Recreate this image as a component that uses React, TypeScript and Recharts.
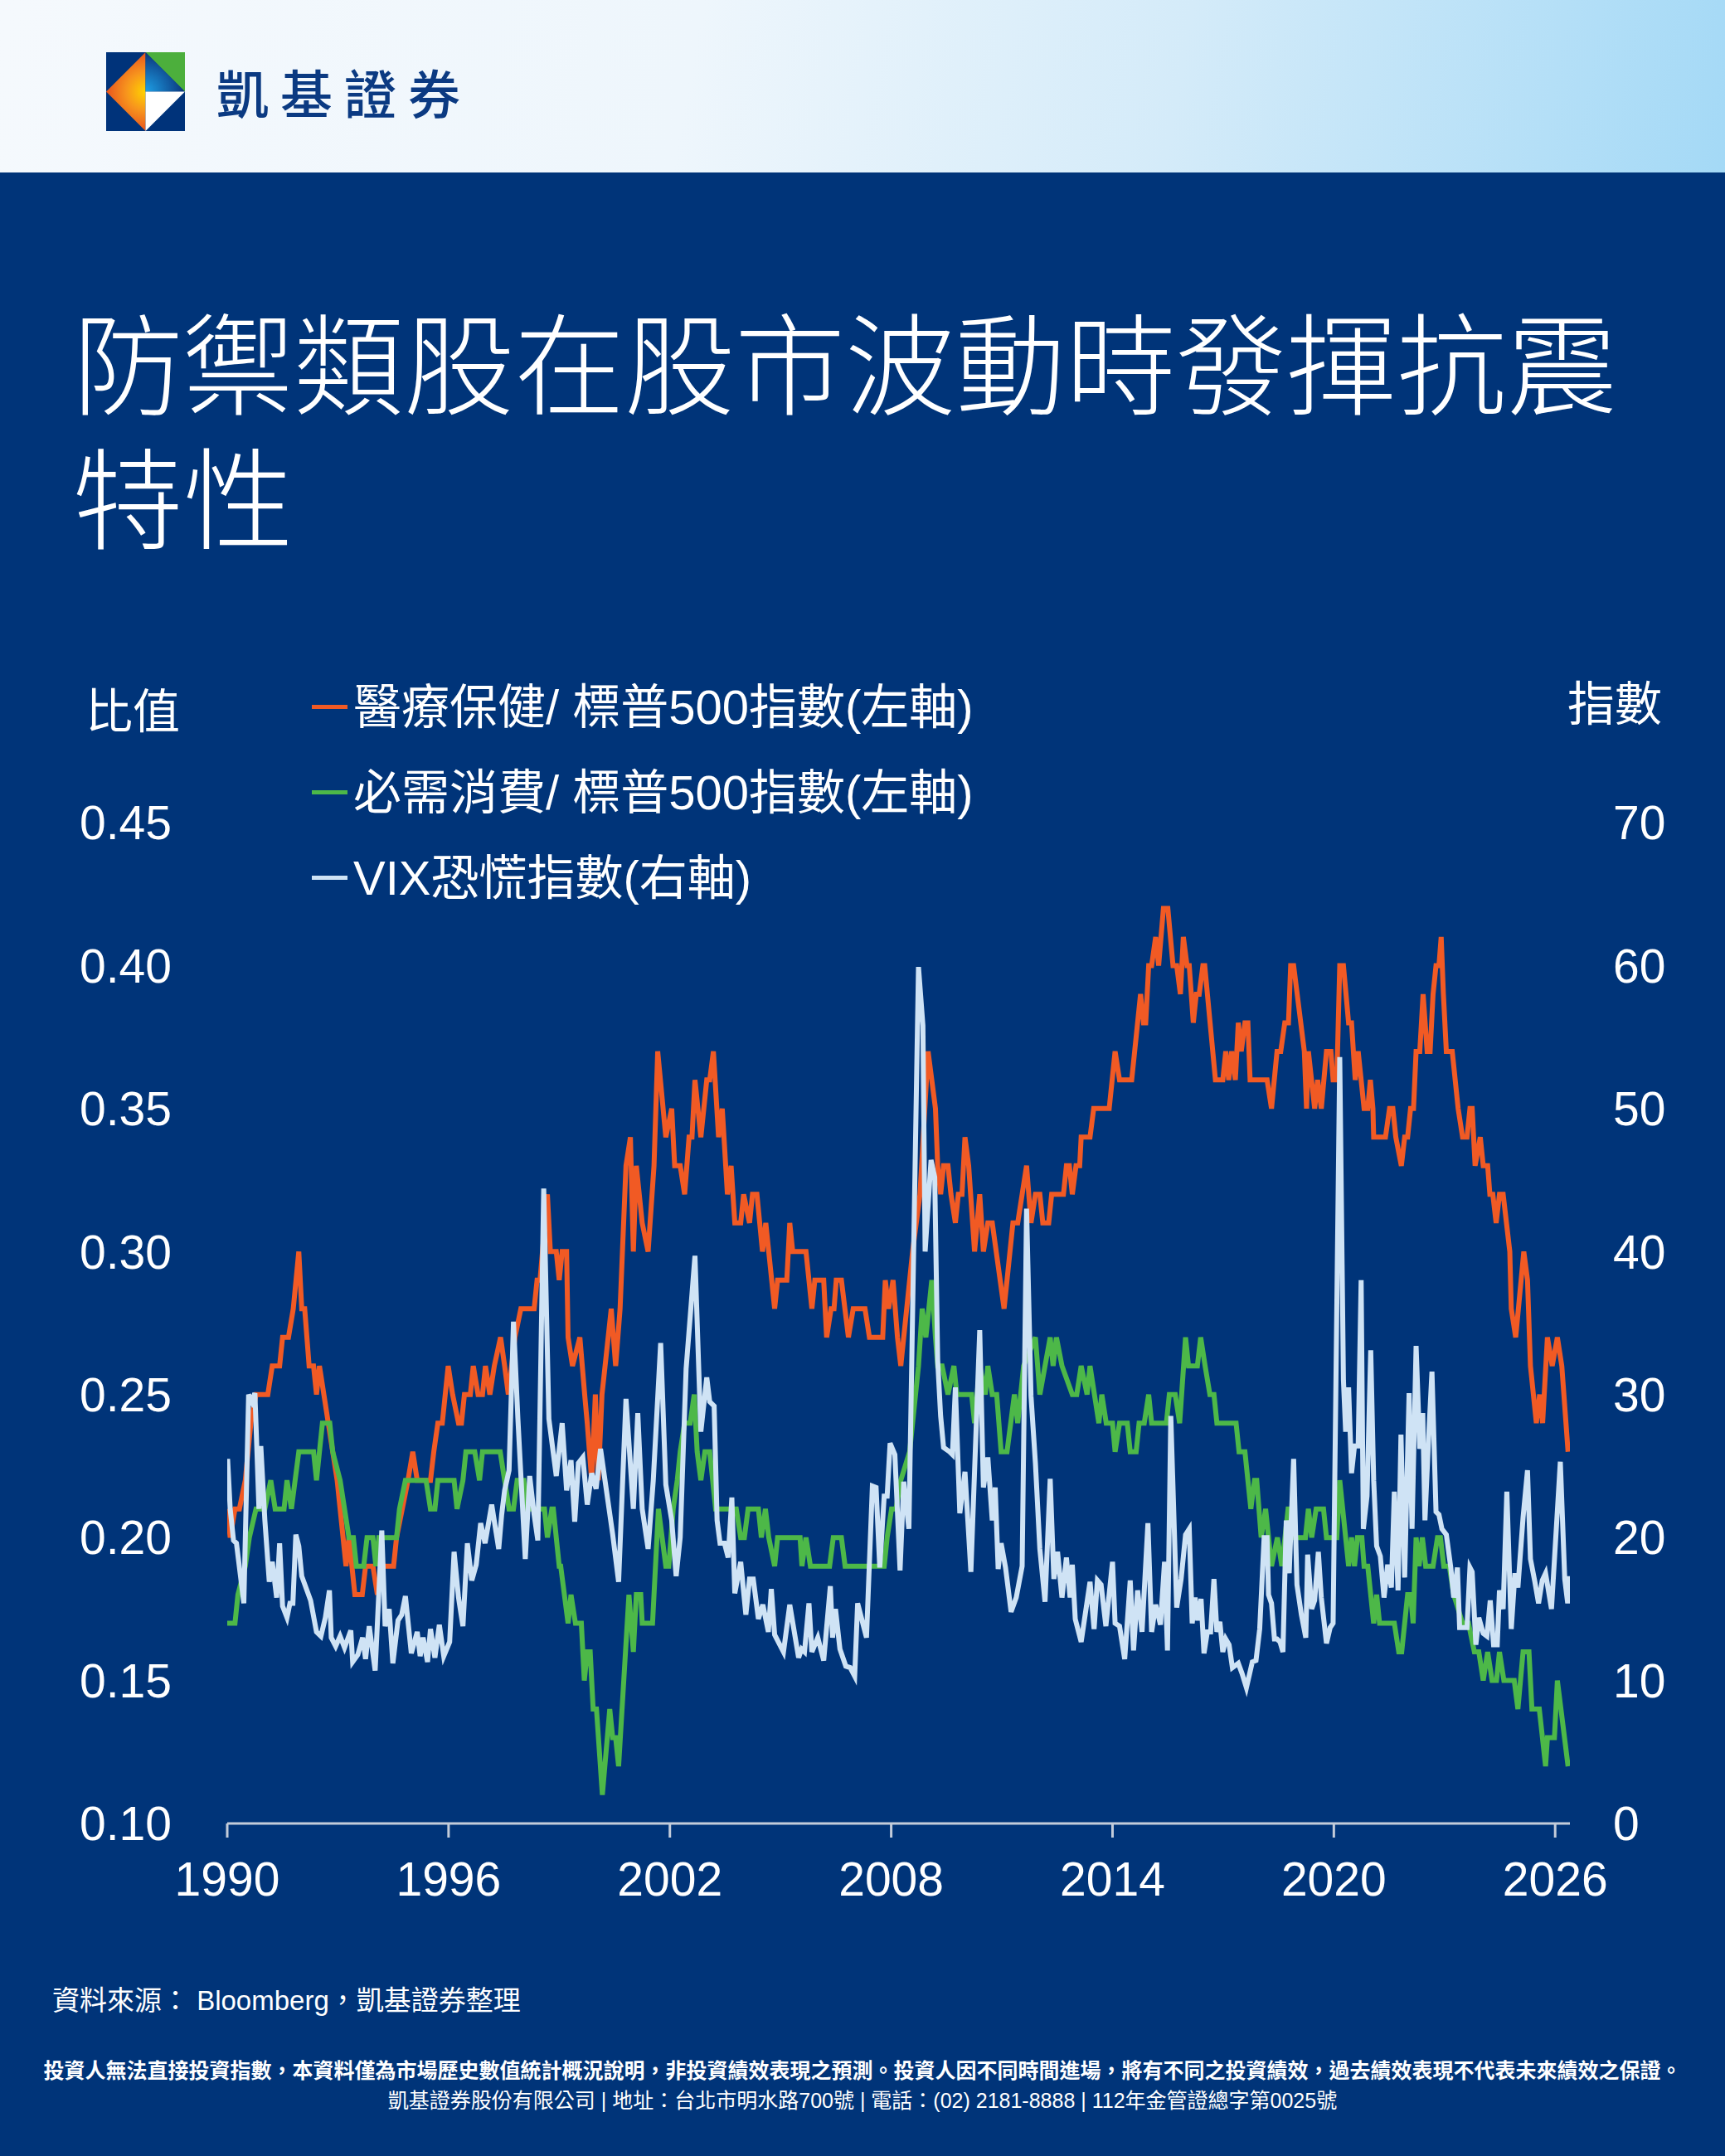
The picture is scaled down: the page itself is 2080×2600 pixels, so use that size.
import { LineChart, Line, XAxis, YAxis } from "recharts";

const FONT = '"Liberation Sans", Arial, "Noto Sans CJK TC", sans-serif';
const CJK = '"Noto Sans CJK TC", "Liberation Sans", sans-serif';
const BG = "#003479";
const AXIS = "#c3ccda";

const ORANGE = "#f15a24";
const GREEN = "#4db848";
const VIX_COLOR = "#cfe3f5";

const X_TICKS = [1990, 1996, 2002, 2008, 2014, 2020, 2026];
const LEFT_TICKS = [0.1, 0.15, 0.2, 0.25, 0.3, 0.35, 0.4, 0.45];
const RIGHT_TICKS = [0, 10, 20, 30, 40, 50, 60, 70];

// 醫療保健/標普500 比值
const healthYears = [
  1990.0, 1990.08, 1990.21, 1990.33, 1990.49, 1990.64, 1990.78, 1991.1, 1991.22, 1991.42,
  1991.5, 1991.66, 1991.79, 1991.94, 1992.02, 1992.1, 1992.22, 1992.34, 1992.42, 1992.5,
  1992.62, 1992.74, 1992.86, 1992.98, 1993.14, 1993.22, 1993.3, 1993.46, 1993.66, 1993.75,
  1993.95, 1994.07, 1994.19, 1994.51, 1994.59, 1994.9, 1995.03, 1995.15, 1995.51, 1995.6,
  1995.71, 1995.83, 1995.99, 1996.11, 1996.27, 1996.35, 1996.43, 1996.59, 1996.67, 1996.8,
  1996.92, 1997.0, 1997.12, 1997.24, 1997.41, 1997.52, 1997.62, 1997.8, 1997.96, 1998.32,
  1998.4, 1998.48, 1998.68, 1998.76, 1998.92, 1999.0, 1999.08, 1999.2, 1999.24, 1999.36,
  1999.56, 1999.69, 1999.76, 1999.88, 1999.98, 2000.06, 2000.16, 2000.41, 2000.53, 2000.65,
  2000.81, 2000.93, 2001.01, 2001.09, 2001.25, 2001.41, 2001.57, 2001.67, 2001.89, 2002.05,
  2002.13, 2002.28, 2002.4, 2002.52, 2002.6, 2002.68, 2002.84, 2003.0, 2003.08, 2003.18,
  2003.32, 2003.42, 2003.56, 2003.66, 2003.76, 2003.92, 2004.0, 2004.16, 2004.24, 2004.36,
  2004.51, 2004.6, 2004.84, 2004.92, 2005.17, 2005.25, 2005.33, 2005.69, 2005.85, 2005.93,
  2006.17, 2006.25, 2006.37, 2006.45, 2006.51, 2006.65, 2006.84, 2006.97, 2007.29, 2007.41,
  2007.77, 2007.84, 2007.93, 2008.05, 2008.17, 2008.26, 2008.58, 2008.78, 2009.0, 2009.1,
  2009.2, 2009.26, 2009.34, 2009.42, 2009.54, 2009.62, 2009.74, 2009.82, 2009.92, 2010.0,
  2010.1, 2010.26, 2010.4, 2010.5, 2010.62, 2010.74, 2011.06, 2011.3, 2011.43, 2011.67,
  2011.79, 2011.91, 2012.03, 2012.11, 2012.27, 2012.35, 2012.67, 2012.75, 2012.83, 2012.91,
  2013.01, 2013.11, 2013.15, 2013.39, 2013.49, 2013.91, 2014.07, 2014.19, 2014.52, 2014.76,
  2014.84, 2014.9, 2014.98, 2015.06, 2015.17, 2015.25, 2015.38, 2015.5, 2015.64, 2015.74,
  2015.84, 2015.92, 2016.02, 2016.08, 2016.19, 2016.27, 2016.35, 2016.45, 2016.5, 2016.79,
  2016.99, 2017.07, 2017.15, 2017.23, 2017.33, 2017.41, 2017.49, 2017.59, 2017.67, 2017.73,
  2018.19, 2018.31, 2018.46, 2018.56, 2018.67, 2018.77, 2018.83, 2018.91, 2019.2, 2019.26,
  2019.31, 2019.48, 2019.56, 2019.66, 2019.8, 2019.92, 2019.98, 2020.08, 2020.16, 2020.26,
  2020.4, 2020.48, 2020.58, 2020.66, 2020.82, 2020.92, 2020.99, 2021.06, 2021.08, 2021.4,
  2021.51, 2021.6, 2021.68, 2021.83, 2021.92, 2022.0, 2022.08, 2022.16, 2022.23, 2022.33,
  2022.42, 2022.53, 2022.61, 2022.69, 2022.77, 2022.85, 2022.91, 2022.97, 2023.05, 2023.21,
  2023.37, 2023.49, 2023.61, 2023.69, 2023.75, 2023.83, 2023.97, 2024.05, 2024.17, 2024.23,
  2024.31, 2024.4, 2024.49, 2024.59, 2024.77, 2024.81, 2024.93, 2025.15, 2025.25, 2025.33,
  2025.49, 2025.58, 2025.66, 2025.79, 2025.92, 2026.06, 2026.18, 2026.35,
];
const healthRatio = [
  0.21, 0.2, 0.21, 0.21, 0.22, 0.24, 0.25, 0.25, 0.26, 0.26,
  0.27, 0.27, 0.28, 0.3, 0.28, 0.28, 0.26, 0.26, 0.25, 0.26,
  0.25, 0.24, 0.23, 0.22, 0.2, 0.19, 0.2, 0.18, 0.18, 0.19,
  0.19, 0.18, 0.19, 0.19, 0.2, 0.22, 0.23, 0.22, 0.22, 0.23,
  0.24, 0.24, 0.26, 0.25, 0.24, 0.24, 0.25, 0.25, 0.26, 0.25,
  0.25, 0.26, 0.25, 0.26, 0.27, 0.26, 0.25, 0.27, 0.28, 0.28,
  0.29, 0.29, 0.32, 0.3, 0.3, 0.29, 0.3, 0.3, 0.27, 0.26,
  0.27, 0.25, 0.24, 0.22, 0.25, 0.22, 0.25, 0.28, 0.26, 0.28,
  0.33, 0.34, 0.3, 0.33, 0.31, 0.3, 0.33, 0.37, 0.34, 0.35,
  0.33, 0.33, 0.32, 0.34, 0.34, 0.36, 0.34, 0.36, 0.36, 0.37,
  0.34, 0.35, 0.32, 0.33, 0.31, 0.31, 0.32, 0.31, 0.32, 0.32,
  0.3, 0.31, 0.28, 0.29, 0.29, 0.31, 0.3, 0.3, 0.28, 0.29,
  0.29, 0.27, 0.28, 0.28, 0.29, 0.29, 0.27, 0.28, 0.28, 0.27,
  0.27, 0.29, 0.28, 0.29, 0.27, 0.26, 0.3, 0.32, 0.37, 0.36,
  0.35, 0.33, 0.32, 0.33, 0.33, 0.32, 0.31, 0.32, 0.32, 0.34,
  0.33, 0.3, 0.32, 0.3, 0.31, 0.31, 0.28, 0.31, 0.31, 0.33,
  0.31, 0.32, 0.32, 0.31, 0.31, 0.32, 0.32, 0.33, 0.33, 0.32,
  0.33, 0.33, 0.34, 0.34, 0.35, 0.35, 0.37, 0.36, 0.36, 0.39,
  0.38, 0.38, 0.4, 0.4, 0.41, 0.4, 0.42, 0.42, 0.4, 0.4,
  0.39, 0.41, 0.4, 0.4, 0.38, 0.39, 0.39, 0.4, 0.4, 0.36,
  0.36, 0.37, 0.36, 0.37, 0.36, 0.38, 0.37, 0.38, 0.38, 0.36,
  0.36, 0.35, 0.37, 0.37, 0.38, 0.38, 0.4, 0.4, 0.37, 0.35,
  0.37, 0.35, 0.36, 0.35, 0.37, 0.37, 0.36, 0.36, 0.4, 0.4,
  0.38, 0.38, 0.36, 0.37, 0.35, 0.35, 0.36, 0.35, 0.34, 0.34,
  0.35, 0.35, 0.34, 0.33, 0.34, 0.34, 0.35, 0.35, 0.37, 0.37,
  0.39, 0.37, 0.37, 0.39, 0.4, 0.4, 0.41, 0.39, 0.37, 0.37,
  0.35, 0.34, 0.34, 0.35, 0.35, 0.33, 0.34, 0.33, 0.33, 0.32,
  0.32, 0.31, 0.32, 0.32, 0.3, 0.28, 0.27, 0.3, 0.29, 0.26,
  0.24, 0.25, 0.24, 0.27, 0.26, 0.27, 0.26, 0.23,
];

// 必需消費/標普500 比值
const staplesYears = [
  1990.0, 1990.21, 1990.29, 1990.49, 1990.6, 1990.78, 1991.02, 1991.18, 1991.3, 1991.54,
  1991.62, 1991.74, 1991.94, 1992.34, 1992.42, 1992.58, 1992.78, 1992.86, 1993.06, 1993.3,
  1993.42, 1993.5, 1993.7, 1993.79, 1993.95, 1994.03, 1994.11, 1994.59, 1994.67, 1994.83,
  1995.39, 1995.51, 1995.63, 1995.71, 1996.15, 1996.23, 1996.39, 1996.47, 1996.71, 1996.84,
  1996.92, 1997.4, 1997.52, 1997.64, 1997.76, 1997.86, 1998.04, 1998.12, 1998.6, 1998.68,
  1998.8, 1998.84, 1999.0, 1999.04, 1999.24, 1999.32, 1999.44, 1999.6, 1999.68, 1999.76,
  1999.84, 1999.92, 2000.01, 2000.17, 2000.37, 2000.45, 2000.53, 2000.61, 2000.89, 2001.01,
  2001.09, 2001.21, 2001.25, 2001.53, 2001.69, 2001.89, 2001.97, 2002.09, 2002.2, 2002.28,
  2002.4, 2002.55, 2002.66, 2002.74, 2002.84, 2002.95, 2003.08, 2003.24, 2003.8, 2003.92,
  2004.02, 2004.12, 2004.4, 2004.48, 2004.59, 2004.68, 2004.84, 2004.92, 2005.53, 2005.58,
  2005.69, 2005.81, 2006.33, 2006.43, 2006.65, 2006.75, 2007.81, 2007.89, 2008.01, 2008.13,
  2008.26, 2008.5, 2008.74, 2008.84, 2008.94, 2009.1, 2009.2, 2009.26, 2009.38, 2009.54,
  2009.7, 2009.78, 2010.18, 2010.26, 2010.4, 2010.55, 2010.62, 2010.74, 2010.86, 2010.98,
  2011.14, 2011.34, 2011.43, 2011.59, 2011.91, 2012.03, 2012.31, 2012.39, 2012.48, 2012.63,
  2012.91, 2013.03, 2013.15, 2013.31, 2013.39, 2013.51, 2013.63, 2013.71, 2013.83, 2014.0,
  2014.07, 2014.19, 2014.4, 2014.48, 2014.64, 2014.72, 2014.86, 2014.98, 2015.06, 2015.46,
  2015.54, 2015.7, 2015.82, 2015.98, 2016.06, 2016.19, 2016.3, 2016.39, 2016.51, 2016.64,
  2016.75, 2016.83, 2017.35, 2017.43, 2017.59, 2017.75, 2017.85, 2017.91, 2018.03, 2018.15,
  2018.31, 2018.47, 2018.59, 2018.76, 2018.84, 2018.95, 2019.23, 2019.31, 2019.4, 2019.52,
  2019.72, 2019.8, 2020.08, 2020.16, 2020.4, 2020.48, 2020.56, 2020.64, 2020.76, 2020.82,
  2020.92, 2021.08, 2021.16, 2021.24, 2021.64, 2021.76, 2021.84, 2022.0, 2022.08, 2022.15,
  2022.23, 2022.31, 2022.4, 2022.49, 2022.69, 2022.81, 2022.89, 2022.98, 2023.13, 2023.25,
  2023.49, 2023.65, 2023.81, 2023.93, 2024.05, 2024.17, 2024.29, 2024.41, 2024.49, 2024.61,
  2024.89, 2024.99, 2025.13, 2025.29, 2025.37, 2025.57, 2025.74, 2025.79, 2025.98, 2026.06,
  2026.35,
];
const staplesRatio = [
  0.17, 0.17, 0.18, 0.19, 0.2, 0.21, 0.21, 0.22, 0.21, 0.21,
  0.22, 0.21, 0.23, 0.23, 0.22, 0.24, 0.24, 0.23, 0.22, 0.2,
  0.2, 0.19, 0.19, 0.2, 0.2, 0.19, 0.2, 0.2, 0.21, 0.22,
  0.22, 0.21, 0.21, 0.22, 0.22, 0.21, 0.22, 0.23, 0.23, 0.22,
  0.23, 0.23, 0.22, 0.21, 0.21, 0.22, 0.22, 0.21, 0.21, 0.2,
  0.21, 0.21, 0.19, 0.19, 0.17, 0.18, 0.17, 0.17, 0.15, 0.16,
  0.16, 0.14, 0.14, 0.11, 0.14, 0.13, 0.13, 0.12, 0.18, 0.16,
  0.18, 0.18, 0.17, 0.17, 0.21, 0.19, 0.19, 0.21, 0.22, 0.23,
  0.24, 0.24, 0.25, 0.23, 0.22, 0.23, 0.23, 0.21, 0.21, 0.2,
  0.2, 0.21, 0.21, 0.2, 0.21, 0.2, 0.19, 0.2, 0.2, 0.19,
  0.2, 0.19, 0.19, 0.2, 0.2, 0.19, 0.19, 0.2, 0.21, 0.21,
  0.22, 0.23, 0.26, 0.28, 0.27, 0.29, 0.27, 0.26, 0.26, 0.25,
  0.26, 0.25, 0.25, 0.24, 0.26, 0.25, 0.26, 0.25, 0.25, 0.23,
  0.23, 0.25, 0.24, 0.26, 0.27, 0.25, 0.27, 0.26, 0.27, 0.26,
  0.25, 0.25, 0.26, 0.25, 0.26, 0.25, 0.24, 0.25, 0.24, 0.24,
  0.23, 0.24, 0.24, 0.23, 0.23, 0.24, 0.24, 0.25, 0.24, 0.24,
  0.25, 0.25, 0.24, 0.27, 0.26, 0.26, 0.26, 0.27, 0.26, 0.25,
  0.25, 0.24, 0.24, 0.23, 0.23, 0.21, 0.22, 0.22, 0.2, 0.21,
  0.19, 0.2, 0.19, 0.21, 0.21, 0.2, 0.2, 0.21, 0.2, 0.21,
  0.21, 0.2, 0.2, 0.22, 0.19, 0.2, 0.19, 0.2, 0.2, 0.19,
  0.19, 0.17, 0.18, 0.17, 0.17, 0.16, 0.16, 0.18, 0.18, 0.17,
  0.2, 0.19, 0.2, 0.19, 0.19, 0.2, 0.2, 0.19, 0.19, 0.18,
  0.17, 0.17, 0.16, 0.16, 0.15, 0.16, 0.15, 0.15, 0.16, 0.15,
  0.15, 0.14, 0.16, 0.16, 0.14, 0.14, 0.12, 0.13, 0.13, 0.15,
  0.12,
];

// VIX 恐慌指數
const vixYears = [
  1990.01, 1990.08, 1990.17, 1990.25, 1990.45, 1990.58, 1990.67, 1990.75, 1990.86, 1990.91,
  1991.02, 1991.14, 1991.22, 1991.34, 1991.42, 1991.5, 1991.62, 1991.7, 1991.78, 1991.86,
  1991.94, 1992.02, 1992.26, 1992.42, 1992.54, 1992.66, 1992.77, 1992.82, 1992.94, 1993.06,
  1993.18, 1993.35, 1993.4, 1993.54, 1993.67, 1993.75, 1993.85, 1994.01, 1994.19, 1994.28,
  1994.39, 1994.49, 1994.63, 1994.73, 1994.83, 1994.99, 1995.15, 1995.23, 1995.31, 1995.43,
  1995.51, 1995.63, 1995.75, 1995.87, 1996.03, 1996.15, 1996.27, 1996.39, 1996.51, 1996.63,
  1996.75, 1996.87, 1996.99, 1997.17, 1997.36, 1997.44, 1997.52, 1997.64, 1997.76, 1997.88,
  1998.08, 1998.2, 1998.32, 1998.42, 1998.58, 1998.72, 1998.92, 1999.08, 1999.2, 1999.32,
  1999.42, 1999.52, 1999.64, 1999.76, 1999.88, 2000.0, 2000.12, 2000.45, 2000.61, 2000.81,
  2001.01, 2001.13, 2001.25, 2001.41, 2001.55, 2001.75, 2001.89, 2002.05, 2002.17, 2002.28,
  2002.44, 2002.68, 2002.84, 2003.0, 2003.08, 2003.2, 2003.28, 2003.36, 2003.48, 2003.58,
  2003.68, 2003.76, 2003.92, 2004.06, 2004.16, 2004.26, 2004.4, 2004.52, 2004.67, 2004.75,
  2004.84, 2005.08, 2005.25, 2005.49, 2005.57, 2005.65, 2005.77, 2005.85, 2006.01, 2006.17,
  2006.35, 2006.41, 2006.49, 2006.61, 2006.77, 2006.89, 2007.01, 2007.09, 2007.33, 2007.49,
  2007.59, 2007.69, 2007.81, 2007.89, 2007.97, 2008.1, 2008.24, 2008.34, 2008.48, 2008.74,
  2008.86, 2008.92, 2009.08, 2009.18, 2009.26, 2009.34, 2009.42, 2009.58, 2009.66, 2009.74,
  2009.86, 2010.0, 2010.16, 2010.4, 2010.5, 2010.62, 2010.74, 2010.82, 2010.9, 2010.98,
  2011.1, 2011.25, 2011.39, 2011.55, 2011.67, 2011.79, 2011.91, 2012.03, 2012.17, 2012.31,
  2012.41, 2012.51, 2012.63, 2012.75, 2012.85, 2012.91, 2012.99, 2013.15, 2013.39, 2013.5,
  2013.59, 2013.69, 2013.82, 2014.0, 2014.07, 2014.19, 2014.33, 2014.48, 2014.57, 2014.68,
  2014.8, 2014.96, 2015.06, 2015.17, 2015.3, 2015.41, 2015.49, 2015.58, 2015.74, 2015.86,
  2015.98, 2016.08, 2016.16, 2016.24, 2016.31, 2016.4, 2016.48, 2016.57, 2016.66, 2016.75,
  2016.83, 2016.91, 2016.99, 2017.07, 2017.16, 2017.25, 2017.41, 2017.51, 2017.63, 2017.79,
  2017.89, 2017.99, 2018.11, 2018.19, 2018.23, 2018.31, 2018.39, 2018.46, 2018.54, 2018.62,
  2018.71, 2018.79, 2018.91, 2019.0, 2019.12, 2019.24, 2019.29, 2019.4, 2019.48, 2019.58,
  2019.66, 2019.8, 2019.9, 2019.98, 2020.16, 2020.26, 2020.32, 2020.4, 2020.48, 2020.56,
  2020.66, 2020.74, 2020.8, 2020.9, 2021.0, 2021.08, 2021.16, 2021.26, 2021.36, 2021.46,
  2021.56, 2021.64, 2021.74, 2021.82, 2021.92, 2022.04, 2022.12, 2022.23, 2022.33, 2022.41,
  2022.47, 2022.57, 2022.66, 2022.77, 2022.85, 2022.93, 2023.05, 2023.17, 2023.25, 2023.35,
  2023.41, 2023.61, 2023.69, 2023.75, 2023.85, 2023.93, 2024.05, 2024.15, 2024.24, 2024.33,
  2024.43, 2024.49, 2024.59, 2024.69, 2024.81, 2024.91, 2024.99, 2025.13, 2025.25, 2025.33,
  2025.45, 2025.55, 2025.65, 2025.74, 2025.9, 2026.14, 2026.26, 2026.34, 2026.38,
];
const vixLevel = [
  25.5, 22.0, 19.8, 19.6, 15.4, 30.0, 29.5, 30.1, 22.0, 26.4,
  21.2, 16.9, 18.3, 15.8, 19.6, 15.2, 14.4, 15.4, 15.4, 20.2,
  19.4, 17.3, 15.6, 13.4, 13.1, 14.4, 16.3, 13.0, 12.4, 13.1,
  12.3, 13.5, 11.3, 11.8, 13.0, 11.5, 13.8, 10.7, 20.5, 13.8,
  15.0, 11.2, 14.2, 14.6, 15.9, 11.9, 13.4, 11.7, 13.0, 11.3,
  13.6, 11.6, 13.9, 11.7, 12.7, 19.0, 15.8, 13.8, 19.6, 17.0,
  18.1, 21.0, 19.6, 22.3, 19.2, 21.6, 23.3, 24.7, 35.1, 28.3,
  18.5, 24.3, 21.6, 19.8, 44.4, 28.3, 24.3, 28.0, 23.3, 25.4,
  21.1, 25.2, 25.6, 22.3, 24.5, 23.4, 26.2, 20.2, 16.9, 29.7,
  22.0, 28.7, 22.0, 19.2, 24.0, 33.6, 23.7, 21.2, 17.3, 20.0,
  31.8, 39.7, 27.4, 31.2, 29.5, 29.2, 21.2, 19.6, 19.6, 18.6,
  22.8, 16.1, 18.3, 14.6, 17.1, 17.1, 14.3, 15.3, 13.4, 16.4,
  13.2, 12.0, 15.3, 11.6, 12.2, 12.0, 15.4, 12.0, 13.0, 11.4,
  16.6, 13.0, 15.0, 12.2, 11.0, 10.9, 10.3, 15.4, 13.0, 23.6,
  23.5, 17.9, 22.9, 22.9, 26.6, 25.8, 17.7, 23.9, 20.6, 59.9,
  55.8, 40.0, 46.4, 45.2, 32.4, 28.5, 26.3, 26.0, 25.8, 30.5,
  21.7, 24.6, 17.6, 34.5, 23.5, 25.6, 21.2, 23.5, 17.8, 19.6,
  17.9, 14.8, 15.8, 18.0, 43.0, 29.9, 25.2, 19.2, 15.5, 24.1,
  17.1, 19.0, 15.8, 18.6, 15.8, 18.1, 14.3, 12.7, 16.9, 13.6,
  17.0, 16.7, 13.8, 18.3, 14.0, 13.8, 11.5, 17.0, 12.1, 16.3,
  13.4, 21.0, 13.4, 15.3, 13.9, 18.3, 12.1, 28.5, 15.1, 17.1,
  20.2, 20.6, 14.0, 15.8, 14.2, 15.7, 11.9, 13.4, 13.4, 17.1,
  13.4, 14.1, 12.0, 12.9, 12.5, 10.9, 11.2, 10.5, 9.5, 11.3,
  11.4, 13.6, 20.0, 20.0, 16.0, 15.4, 12.9, 12.9, 12.7, 12.0,
  21.2, 17.5, 25.5, 16.7, 14.6, 13.0, 18.8, 15.0, 15.6, 19.0,
  15.8, 12.6, 13.7, 14.0, 53.6, 31.0, 27.4, 30.5, 24.5, 26.4,
  26.4, 38.0, 20.6, 22.9, 33.1, 24.0, 19.4, 18.7, 15.8, 18.1,
  16.5, 23.2, 16.3, 27.2, 17.2, 30.1, 20.6, 33.4, 26.2, 28.7,
  21.2, 27.0, 31.6, 21.8, 21.6, 20.6, 20.2, 17.9, 15.8, 17.9,
  13.7, 13.7, 17.9, 17.6, 12.5, 14.4, 13.3, 13.1, 15.6, 12.5,
  12.5, 16.3, 15.0, 23.2, 13.6, 17.5, 16.5, 21.4, 24.7, 18.5,
  16.9, 15.4, 17.0, 17.5, 15.0, 25.3, 17.1, 15.4, 17.3,
];

const LEGEND = [
  { label: "醫療保健/ 標普500指數(左軸)", color: ORANGE },
  { label: "必需消費/ 標普500指數(左軸)", color: GREEN },
  { label: "VIX恐慌指數(右軸)", color: VIX_COLOR },
];

const TITLE_LINES = ["防禦類股在股市波動時發揮抗震", "特性"];

const toPoints = (years: number[], values: number[]) =>
  years.map((t, i) => ({ t, v: values[i] }));

const health = toPoints(healthYears, healthRatio);
const staples = toPoints(staplesYears, staplesRatio);
const vix = toPoints(vixYears, vixLevel);

const tickStyle = { fill: "#ffffff", fontSize: 57, fontFamily: FONT };

const Logo = () => (
  <svg width={95} height={95} viewBox="0 0 95 95" style={{ position: "absolute", left: 128, top: 63 }}>
    <defs>
      <radialGradient id="logoOrange" cx="47.5" cy="47.5" r="52" gradientUnits="userSpaceOnUse">
        <stop offset="0%" stopColor="#ffd400" />
        <stop offset="45%" stopColor="#f7941d" />
        <stop offset="100%" stopColor="#e5481e" />
      </radialGradient>
      <radialGradient id="logoBlue" cx="47.5" cy="47.5" r="50" gradientUnits="userSpaceOnUse">
        <stop offset="0%" stopColor="#1ea0e6" />
        <stop offset="100%" stopColor="#0a2f75" />
      </radialGradient>
    </defs>
    <rect x={0} y={0} width={95} height={95} fill="#00337a" />
    <polygon points="47.5,0 0,47.5 47.5,95" fill="url(#logoOrange)" />
    <polygon points="47.5,0 95,0 95,47.5" fill="#4caf3c" />
    <polygon points="47.5,0 95,47.5 47.5,47.5" fill="url(#logoBlue)" />
    <polygon points="47.5,47.5 95,47.5 47.5,95" fill="#ffffff" />
  </svg>
);

export default function App() {
  return (
    <div
      style={{
        position: "absolute",
        left: 0,
        top: 0,
        width: 2080,
        height: 2600,
        background: BG,
        overflow: "hidden",
        fontFamily: FONT,
        color: "#ffffff",
      }}
    >
      <div
        style={{
          position: "absolute",
          left: 0,
          top: 0,
          width: 2080,
          height: 208,
          background: "linear-gradient(100deg, #f5f9fd 0%, #eef6fc 40%, #d4ebf9 68%, #a4d9f6 100%)",
        }}
      />
      <Logo />
      <div
        style={{
          position: "absolute",
          left: 261,
          top: 72,
          height: 76,
          lineHeight: "76px",
          fontSize: 63,
          fontWeight: 500,
          letterSpacing: 14,
          color: "#0b3a82",
          fontFamily: CJK,
          whiteSpace: "nowrap",
        }}
      >
        凱基證券
      </div>

      {TITLE_LINES.map((line, i) => (
        <div
          key={line}
          style={{
            position: "absolute",
            left: 88,
            top: 369 + i * 162,
            height: 150,
            fontSize: 133,
            lineHeight: "150px",
            fontWeight: 300,
            fontFamily: FONT,
            whiteSpace: "nowrap",
          }}
        >
          {line}
        </div>
      ))}

      <div style={{ position: "absolute", left: 103, top: 818, fontSize: 57, lineHeight: "70px", fontFamily: CJK }}>比值</div>
      <div style={{ position: "absolute", left: 1890, top: 809, fontSize: 57, lineHeight: "70px", fontFamily: CJK }}>指數</div>

      {LEGEND.map((item, i) => (
        <div key={item.label}>
          <div
            style={{
              position: "absolute",
              left: 376,
              top: 850 + i * 103,
              width: 43,
              height: 5,
              background: item.color,
            }}
          />
          <div
            style={{
              position: "absolute",
              left: 426,
              top: 818 + i * 103,
              fontSize: 58,
              lineHeight: "70px",
              whiteSpace: "nowrap",
            }}
          >
            {item.label}
          </div>
        </div>
      ))}

      <div style={{ position: "absolute", left: 0, top: 900 }}>
        <LineChart width={2080} height={1420} margin={{ top: 92, right: 37, bottom: 21, left: 94 }}>
          <XAxis
            type="number"
            dataKey="t"
            domain={[1990, 2026.4]}
            ticks={X_TICKS}
            interval={0}
            allowDataOverflow
            height={100}
            axisLine={{ stroke: AXIS, strokeWidth: 3 }}
            tickLine={{ stroke: AXIS, strokeWidth: 3 }}
            tickSize={17}
            tickMargin={30}
            tick={tickStyle}
          />
          <YAxis
            yAxisId="left"
            orientation="left"
            width={180}
            domain={[0.1, 0.45]}
            ticks={LEFT_TICKS}
            interval={0}
            axisLine={false}
            tickLine={false}
            tickSize={0}
            tickMargin={67}
            tickFormatter={(v: number) => v.toFixed(2)}
            tick={tickStyle}
          />
          <YAxis
            yAxisId="right"
            orientation="right"
            width={150}
            domain={[0, 70]}
            ticks={RIGHT_TICKS}
            interval={0}
            axisLine={false}
            tickLine={false}
            tickSize={0}
            tickMargin={52}
            tick={tickStyle}
          />
          <Line
            yAxisId="left"
            data={health}
            dataKey="v"
            stroke={ORANGE}
            strokeWidth={6}
            dot={false}
            activeDot={false}
            isAnimationActive={false}
          />
          <Line
            yAxisId="left"
            data={staples}
            dataKey="v"
            stroke={GREEN}
            strokeWidth={6}
            dot={false}
            activeDot={false}
            isAnimationActive={false}
          />
          <Line
            yAxisId="right"
            data={vix}
            dataKey="v"
            stroke={VIX_COLOR}
            strokeWidth={6}
            dot={false}
            activeDot={false}
            isAnimationActive={false}
          />
        </LineChart>
      </div>

      <div style={{ position: "absolute", left: 63, top: 2392, fontSize: 33, lineHeight: "42px", whiteSpace: "nowrap" }}>
        資料來源： Bloomberg，凱基證券整理
      </div>
      <div
        style={{
          position: "absolute",
          left: 0,
          width: 2080,
          top: 2481,
          fontSize: 25,
          lineHeight: "32px",
          fontWeight: 700,
          textAlign: "center",
          whiteSpace: "nowrap",
        }}
      >
        投資人無法直接投資指數，本資料僅為市場歷史數值統計概況說明，非投資績效表現之預測。投資人因不同時間進場，將有不同之投資績效，過去績效表現不代表未來績效之保證。
      </div>
      <div
        style={{
          position: "absolute",
          left: 0,
          width: 2080,
          top: 2518,
          fontSize: 25,
          lineHeight: "30px",
          textAlign: "center",
          whiteSpace: "nowrap",
        }}
      >
        凱基證券股份有限公司 | 地址：台北市明水路700號 | 電話：(02) 2181-8888 | 112年金管證總字第0025號
      </div>
    </div>
  );
}
